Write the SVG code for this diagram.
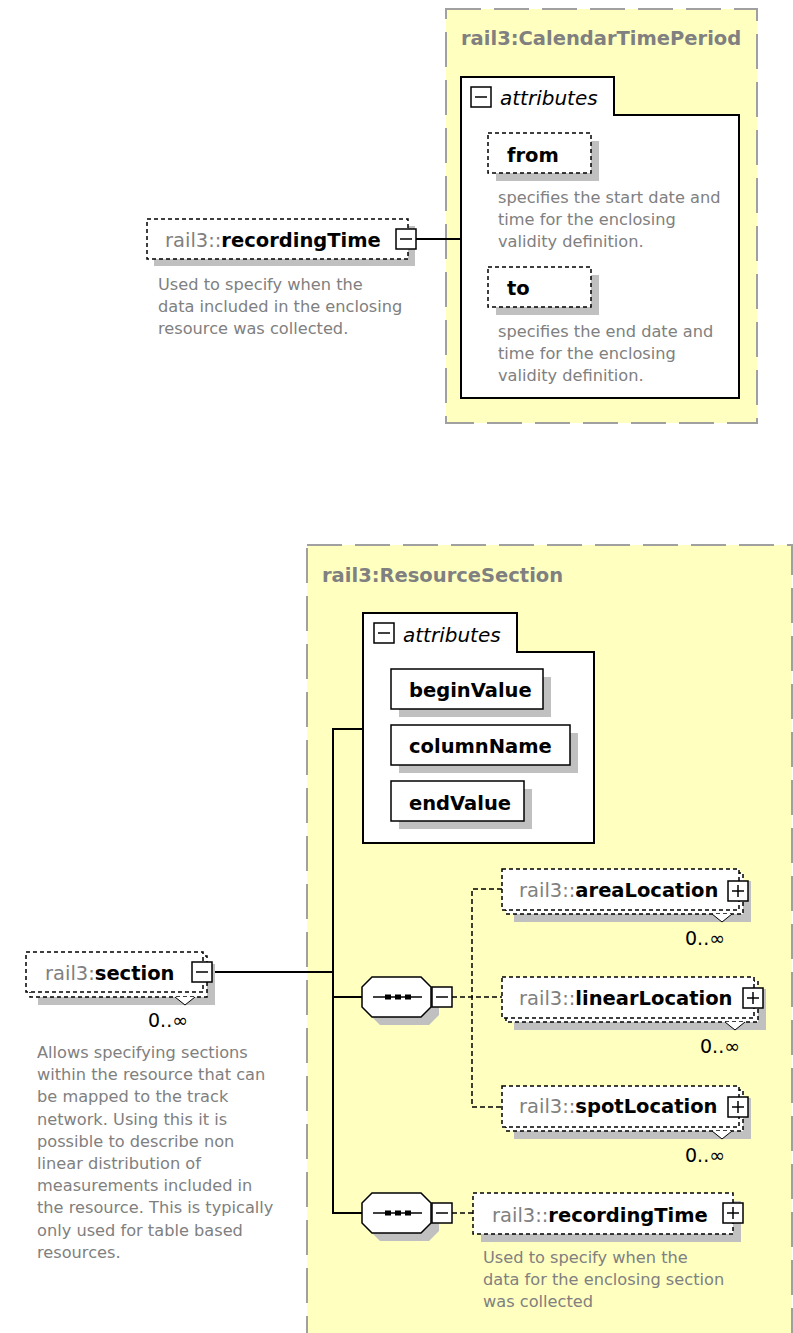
<svg xmlns="http://www.w3.org/2000/svg" width="793" height="1333" viewBox="0 0 793 1333">
<style>
.frame{fill:#ffffc0;stroke:#a0a0a0;stroke-width:2;stroke-dasharray:35 13}
.title{font-family:"DejaVu Sans",Verdana,sans-serif;font-weight:bold;font-size:19.5px;fill:#808080}
.attrbox{fill:#fff;stroke:#000;stroke-width:2}
.shadow{fill:#c0c0c0}
.el{fill:#fff;stroke:#000;stroke-width:1.5;stroke-dasharray:4 3}
.solid{fill:#fff;stroke:#000;stroke-width:1.5}
.btn{fill:#fff;stroke:#000;stroke-width:1.5}
.sign{stroke:#000;stroke-width:1.5;fill:none}
.name{font-family:"DejaVu Sans",Verdana,sans-serif;font-weight:bold;font-size:19.5px;fill:#000}
.pfx{font-weight:normal;fill:#808080}
.attrlbl{font-family:"DejaVu Sans",Verdana,sans-serif;font-style:italic;font-size:20px;fill:#000}
.desc{font-family:"DejaVu Sans",Verdana,sans-serif;font-size:16.2px;fill:#808080}
.mult{font-family:"DejaVu Sans",Verdana,sans-serif;font-size:19px;fill:#000}
.conn{stroke:#000;stroke-width:2;fill:none}
.dconn{stroke:#000;stroke-width:1.5;stroke-dasharray:5 3;fill:none}
.notch{fill:#fff;stroke:#000;stroke-width:1}
.seqline{stroke:#000;stroke-width:1.5}
</style>
<defs>
<g id="minus"><rect class="btn" x="0" y="0" width="20" height="20"/><line class="sign" x1="4" y1="10" x2="16" y2="10"/></g>
<g id="plus"><rect class="btn" x="0" y="0" width="20" height="20"/><line class="sign" x1="4" y1="10" x2="16" y2="10"/><line class="sign" x1="10" y1="4" x2="10" y2="16"/></g>
<g id="seq">
<polygon class="shadow" points="18,8 67,8 77,18 77,38 67,48 18,48 8,38 8,18"/>
<polygon class="solid" points="10,0 59,0 69,10 69,30 59,40 10,40 0,30 0,10"/>
<line class="seqline" x1="11" y1="20" x2="60" y2="20"/>
<rect x="23" y="17.5" width="6" height="5" fill="#000"/>
<rect x="33" y="17.5" width="6" height="5" fill="#000"/>
<rect x="43" y="17.5" width="6" height="5" fill="#000"/>
</g>
</defs>

<!-- Frames -->
<g id="CalendarTimePeriod">
<rect class="frame" x="446" y="9" width="311" height="414"/>
<text class="title" x="461" y="45">rail3:CalendarTimePeriod</text>
</g>
<g id="ResourceSection">
<rect class="frame" x="307" y="545" width="485" height="830"/>
<text class="title" x="322" y="582">rail3:ResourceSection</text>
</g>

<!-- Connectors -->
<g id="connectors">
<line class="conn" x1="416" y1="239" x2="461" y2="239"/>
<line class="conn" x1="212" y1="972" x2="333" y2="972"/>
<line class="conn" x1="333" y1="728" x2="333" y2="1214"/>
<line class="conn" x1="332" y1="729" x2="363" y2="729"/>
<line class="conn" x1="333" y1="997" x2="362" y2="997"/>
<line class="conn" x1="332" y1="1213" x2="362" y2="1213"/>
<polyline class="dconn" points="502,889 472,889 472,1107 502,1107"/>
<line class="dconn" x1="452" y1="997" x2="502" y2="997"/>
<line class="dconn" x1="452" y1="1213" x2="473" y2="1213"/>
</g>

<!-- Top recordingTime -->
<g id="recordingTime_top">
<rect class="shadow" x="154" y="226" width="261" height="40"/>
<rect class="el" x="147" y="219" width="261" height="40"/>
<text class="name" x="165" y="247"><tspan class="pfx">rail3::</tspan>recordingTime</text>
<use href="#minus" x="396" y="229"/>
<text class="desc" x="158" y="290">Used to specify when the</text>
<text class="desc" x="158" y="312">data included in the enclosing</text>
<text class="desc" x="158" y="334">resource was collected.</text>
</g>

<!-- CalendarTimePeriod attributes -->
<g id="ctp_attributes">
<path class="attrbox" d="M461,77 H614 V115 H739 V398 H461 Z"/>
<use href="#minus" x="471" y="87"/>
<text class="attrlbl" x="500" y="105">attributes</text>
</g>
<g id="attr_from">
<rect class="shadow" x="496" y="141" width="103" height="40"/>
<rect class="el" x="488" y="133" width="103" height="40"/>
<text class="name" x="507" y="162">from</text>
<text class="desc" x="498" y="203">specifies the start date and</text>
<text class="desc" x="498" y="225">time for the enclosing</text>
<text class="desc" x="498" y="247">validity definition.</text>
</g>
<g id="attr_to">
<rect class="shadow" x="496" y="275" width="103" height="40"/>
<rect class="el" x="488" y="267" width="103" height="40"/>
<text class="name" x="507" y="295">to</text>
<text class="desc" x="498" y="337">specifies the end date and</text>
<text class="desc" x="498" y="359">time for the enclosing</text>
<text class="desc" x="498" y="381">validity definition.</text>
</g>

<!-- ResourceSection attributes -->
<g id="rs_attributes">
<path class="attrbox" d="M363,613 H517 V652 H594 V843 H363 Z"/>
<use href="#minus" x="374" y="623"/>
<text class="attrlbl" x="403" y="642">attributes</text>
</g>
<g id="attr_beginValue">
<rect class="shadow" x="399" y="677" width="152" height="40"/>
<rect class="solid" x="391" y="669" width="152" height="40"/>
<text class="name" x="409" y="697">beginValue</text>
</g>
<g id="attr_columnName">
<rect class="shadow" x="399" y="733" width="179" height="40"/>
<rect class="solid" x="391" y="725" width="179" height="40"/>
<text class="name" x="409" y="753">columnName</text>
</g>
<g id="attr_endValue">
<rect class="shadow" x="399" y="789" width="133" height="40"/>
<rect class="solid" x="391" y="781" width="133" height="40"/>
<text class="name" x="409" y="810">endValue</text>
</g>

<!-- section -->
<g id="section">
<rect class="shadow" x="38" y="964" width="177" height="41"/>
<rect class="el" x="30" y="956" width="177" height="41"/>
<rect class="el" x="26" y="952" width="177" height="40"/>
<polyline class="notch" points="175,997 185,1005 195,997"/>
<text class="name" x="45" y="980"><tspan class="pfx">rail3:</tspan>section</text>
<use href="#minus" x="192" y="962"/>
<text class="mult" x="148" y="1027">0..∞</text>
<text class="desc" x="37" y="1058">Allows specifying sections</text>
<text class="desc" x="37" y="1080.2">within the resource that can</text>
<text class="desc" x="37" y="1102.4">be mapped to the track</text>
<text class="desc" x="37" y="1124.6">network. Using this it is</text>
<text class="desc" x="37" y="1146.8">possible to describe non</text>
<text class="desc" x="37" y="1169">linear distribution of</text>
<text class="desc" x="37" y="1191.2">measurements included in</text>
<text class="desc" x="37" y="1213.4">the resource. This is typically</text>
<text class="desc" x="37" y="1235.6">only used for table based</text>
<text class="desc" x="37" y="1257.8">resources.</text>
</g>

<!-- sequences -->
<g id="sequence1">
<use href="#seq" x="362" y="977"/>
<use href="#minus" x="432" y="987"/>
</g>
<g id="sequence2">
<use href="#seq" x="362" y="1193"/>
<use href="#minus" x="432" y="1203"/>
</g>

<!-- areaLocation -->
<g id="areaLocation">
<rect class="shadow" x="514" y="881" width="237" height="41"/>
<rect class="el" x="506" y="873" width="237" height="41"/>
<rect class="el" x="502" y="869" width="237" height="41"/>
<polyline class="notch" points="712,914 722,922 732,914"/>
<text class="name" x="519" y="897"><tspan class="pfx">rail3::</tspan>areaLocation</text>
<use href="#plus" x="728" y="881"/>
<text class="mult" x="685" y="945">0..∞</text>
</g>

<!-- linearLocation -->
<g id="linearLocation">
<rect class="shadow" x="514" y="989" width="252" height="41"/>
<rect class="el" x="506" y="981" width="252" height="41"/>
<rect class="el" x="502" y="977" width="252" height="41"/>
<polyline class="notch" points="725,1022 735,1030 745,1022"/>
<text class="name" x="519" y="1005"><tspan class="pfx">rail3::</tspan>linearLocation</text>
<use href="#plus" x="743" y="988"/>
<text class="mult" x="700" y="1053">0..∞</text>
</g>

<!-- spotLocation -->
<g id="spotLocation">
<rect class="shadow" x="514" y="1098" width="237" height="41"/>
<rect class="el" x="506" y="1090" width="237" height="41"/>
<rect class="el" x="502" y="1086" width="237" height="41"/>
<polyline class="notch" points="712,1131 722,1139 732,1131"/>
<text class="name" x="519" y="1113"><tspan class="pfx">rail3::</tspan>spotLocation</text>
<use href="#plus" x="728" y="1097"/>
<text class="mult" x="685" y="1162">0..∞</text>
</g>

<!-- bottom recordingTime -->
<g id="recordingTime_bottom">
<rect class="shadow" x="481" y="1201" width="260" height="41"/>
<rect class="el" x="473" y="1193" width="260" height="41"/>
<text class="name" x="492" y="1222"><tspan class="pfx">rail3::</tspan>recordingTime</text>
<use href="#plus" x="723" y="1203"/>
<text class="desc" x="483" y="1263">Used to specify when the</text>
<text class="desc" x="483" y="1285">data for the enclosing section</text>
<text class="desc" x="483" y="1307">was collected</text>
</g>
</svg>
